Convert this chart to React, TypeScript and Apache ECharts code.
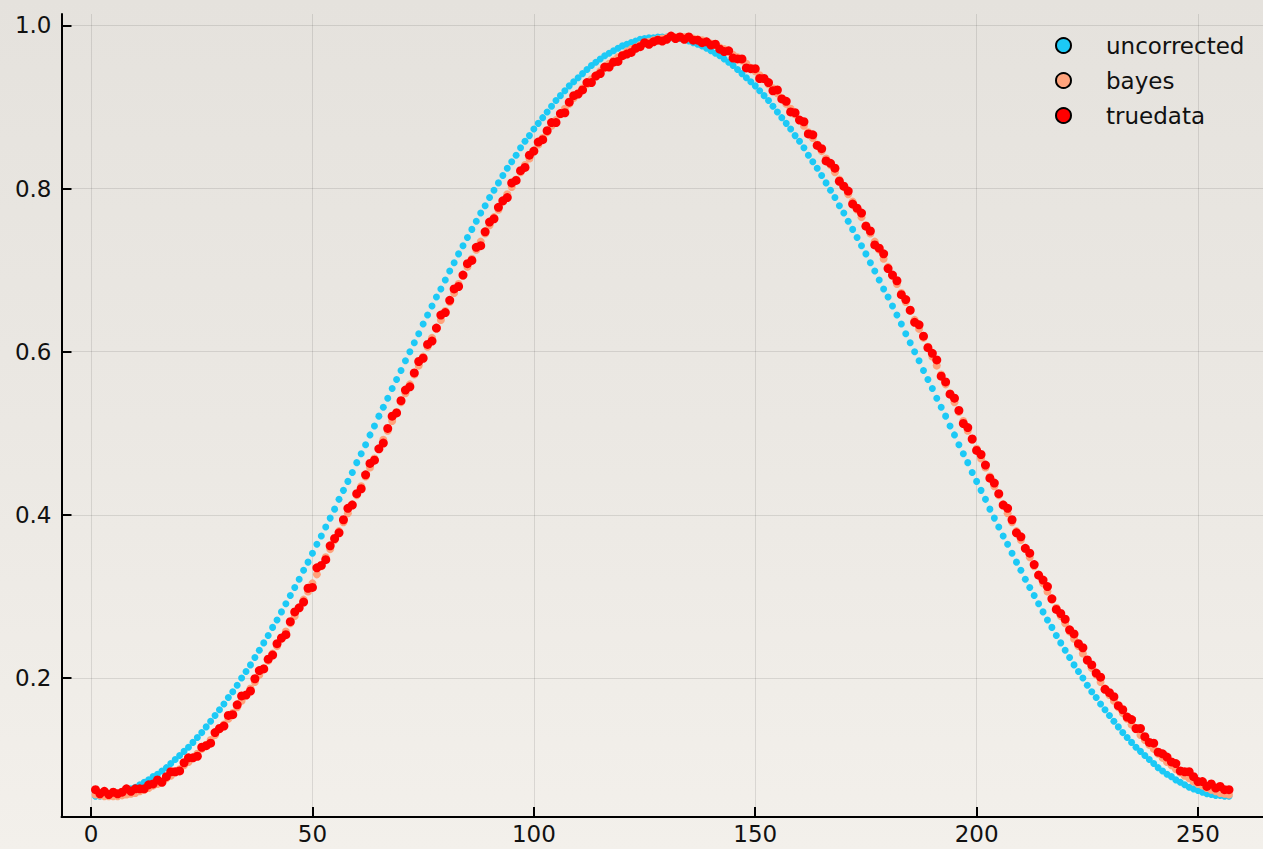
import React, { useEffect, useRef } from "react";
import * as echarts from "echarts";

const seriesNames = ["uncorrected", "bayes", "truedata"];
const xTicks = [0, 50, 100, 150, 200, 250];
const yTicks = [0.2, 0.4, 0.6, 0.8, 1.0];

const uncorrected = [
  0.055,0.055,0.056,0.056,0.057,0.058,0.060,0.062,0.064,
  0.066,0.069,0.072,0.075,0.079,0.082,0.086,0.090,0.095,0.100,
  0.105,0.110,0.115,0.121,0.127,0.133,0.140,0.147,0.154,0.161,
  0.168,0.176,0.183,0.191,0.200,0.208,0.216,0.225,0.234,0.243,
  0.252,0.262,0.271,0.281,0.291,0.301,0.311,0.321,0.332,0.342,
  0.353,0.364,0.374,0.385,0.396,0.407,0.419,0.430,0.441,0.452,
  0.464,0.475,0.486,0.498,0.509,0.521,0.532,0.543,0.555,0.566,
  0.577,0.589,0.600,0.611,0.622,0.634,0.645,0.656,0.667,0.677,
  0.688,0.699,0.709,0.720,0.730,0.740,0.750,0.760,0.770,0.779,
  0.789,0.798,0.807,0.816,0.825,0.833,0.841,0.850,0.858,0.865,
  0.873,0.880,0.887,0.894,0.901,0.908,0.914,0.920,0.926,0.931,
  0.936,0.941,0.946,0.951,0.955,0.959,0.963,0.966,0.969,0.972,
  0.975,0.977,0.979,0.981,0.983,0.984,0.985,0.985,0.986,
  0.986,
  0.986,0.985,0.985,0.984,0.983,0.981,0.979,0.977,0.975,
  0.972,0.969,0.966,0.963,0.959,0.955,0.951,0.946,0.941,0.936,
  0.931,0.926,0.920,0.914,0.908,0.901,0.894,0.887,0.880,0.873,
  0.865,0.858,0.850,0.841,0.833,0.825,0.816,0.807,0.798,0.789,
  0.779,0.770,0.760,0.750,0.740,0.730,0.720,0.709,0.699,0.688,
  0.677,0.667,0.656,0.645,0.634,0.622,0.611,0.600,0.589,0.577,
  0.566,0.555,0.543,0.532,0.521,0.509,0.498,0.486,0.475,0.464,
  0.452,0.441,0.430,0.419,0.407,0.396,0.385,0.374,0.364,0.353,
  0.342,0.332,0.321,0.311,0.301,0.291,0.281,0.271,0.262,0.252,
  0.243,0.234,0.225,0.216,0.208,0.200,0.191,0.183,0.176,0.168,
  0.161,0.154,0.147,0.140,0.133,0.127,0.121,0.115,0.110,0.105,
  0.100,0.095,0.090,0.086,0.082,0.079,0.075,0.072,0.069,0.066,
  0.064,0.062,0.060,0.058,0.057,0.056,0.056,0.055,0.055,
];

const bayes = [
  0.057,0.056,0.055,0.055,
  0.055,0.055,0.056,0.057,0.058,0.059,0.061,0.063,0.065,0.068,
  0.070,0.073,0.077,0.080,0.084,0.088,0.093,0.097,0.102,0.107,
  0.113,0.118,0.124,0.130,0.137,0.143,0.150,0.157,0.164,0.172,
  0.179,0.187,0.195,0.204,0.212,0.221,0.230,0.239,0.248,0.257,
  0.267,0.276,0.286,0.296,0.306,0.316,0.327,0.337,0.348,0.358,
  0.369,0.380,0.391,0.402,0.413,0.424,0.435,0.447,0.458,0.469,
  0.481,0.492,0.503,0.515,0.526,0.538,0.549,0.560,0.572,0.583,
  0.594,0.606,0.617,0.628,0.639,0.650,0.661,0.672,0.683,0.693,
  0.704,0.714,0.725,0.735,0.745,0.755,0.765,0.774,0.784,0.793,
  0.802,0.811,0.820,0.829,0.837,0.846,0.854,0.862,0.869,0.877,
  0.884,0.891,0.898,0.904,0.911,0.917,0.923,0.928,0.934,0.939,
  0.944,0.948,0.953,0.957,0.961,0.964,0.968,0.971,0.973,0.976,
  0.978,0.980,0.982,0.983,0.984,0.985,0.986,0.986,
  0.986,0.986,0.985,0.984,0.983,0.982,0.980,0.978,0.976,0.973,
  0.971,0.968,0.964,0.961,0.957,0.953,0.948,0.944,0.939,0.934,
  0.928,0.923,0.917,0.911,0.904,0.898,0.891,0.884,0.877,0.869,
  0.862,0.854,0.846,0.837,0.829,0.820,0.811,0.802,0.793,0.784,
  0.774,0.765,0.755,0.745,0.735,0.725,0.714,0.704,0.693,0.683,
  0.672,0.661,0.650,0.639,0.628,0.617,0.606,0.594,0.583,0.572,
  0.560,0.549,0.538,0.526,0.515,0.503,0.492,0.481,0.469,0.458,
  0.447,0.435,0.424,0.413,0.402,0.391,0.380,0.369,0.358,0.348,
  0.337,0.327,0.316,0.306,0.296,0.286,0.276,0.267,0.257,0.248,
  0.239,0.230,0.221,0.212,0.204,0.195,0.187,0.179,0.172,0.164,
  0.157,0.150,0.143,0.137,0.130,0.124,0.118,0.113,0.107,0.102,
  0.097,0.093,0.088,0.084,0.080,0.077,0.073,0.070,0.068,0.065,
  0.063,0.061,0.059,0.058,0.057,
];

const truedata = [
  0.063,0.058,0.061,0.057,0.060,0.058,0.060,0.064,0.061,0.064,
  0.064,0.064,0.069,0.070,0.075,0.072,0.079,0.085,0.085,0.086,
  0.096,0.102,0.102,0.104,0.115,0.117,0.120,0.133,0.138,0.141,
  0.154,0.155,0.167,0.178,0.179,0.184,0.199,0.209,0.211,0.223,
  0.228,0.242,0.249,0.253,0.269,0.281,0.286,0.293,0.310,0.311,
  0.335,0.338,0.345,0.362,0.371,0.378,0.394,0.408,0.412,0.426,
  0.432,0.449,0.463,0.467,0.481,0.488,0.506,0.521,0.525,0.540,
  0.553,0.557,0.574,0.588,0.592,0.609,0.613,0.629,0.645,0.648,
  0.663,0.677,0.680,0.694,0.708,0.712,0.728,0.730,0.747,0.759,
  0.763,0.777,0.785,0.789,0.807,0.810,0.822,0.826,0.841,0.846,
  0.857,0.860,0.871,0.881,0.881,0.892,0.893,0.906,0.914,0.916,
  0.921,0.930,0.930,0.938,0.941,0.949,0.949,0.955,0.956,0.963,
  0.965,0.967,0.972,0.974,0.979,0.977,0.980,0.982,0.981,0.983,0.987,0.984,
  0.986,0.983,0.986,0.982,0.982,0.979,0.980,0.976,0.977,0.971,
  0.968,0.969,0.960,0.959,0.959,0.948,0.947,0.947,0.935,0.935,
  0.930,0.920,0.921,0.910,0.907,0.894,0.893,0.884,0.882,0.867,
  0.866,0.853,0.849,0.834,0.831,0.825,0.809,0.803,0.797,0.781,
  0.776,0.770,0.754,0.748,0.731,0.727,0.720,0.702,0.694,0.687,
  0.670,0.664,0.651,0.636,0.633,0.619,0.605,0.598,0.590,0.570,
  0.563,0.548,0.543,0.528,0.512,0.507,0.493,0.479,0.474,0.461,
  0.445,0.439,0.426,0.412,0.408,0.394,0.378,0.373,0.359,0.353,
  0.339,0.326,0.320,0.312,0.297,0.284,0.279,0.272,0.259,0.254,
  0.242,0.237,0.222,0.216,0.206,0.201,0.186,0.182,0.177,0.166,
  0.161,0.152,0.149,0.138,0.138,0.128,0.121,0.120,0.109,0.107,
  0.103,0.097,0.095,0.086,0.085,0.085,0.079,0.073,0.073,0.067,
  0.070,0.065,0.067,0.063,0.063,
];

const colors = ["#1cc9f6", "#ffa37c", "#ff0000"];
const sizes = [7, 8, 9];

export default function App() {
  const ref = useRef<HTMLDivElement>(null);
  useEffect(() => {
    if (!ref.current) return;
    const chart = echarts.init(ref.current, null, { renderer: "svg" });
    const all = [uncorrected, bayes, truedata];
    const font = "DejaVu Sans";
    chart.setOption({
      animation: false,
      backgroundColor: "transparent",
      grid: { left: 61.5, top: 14, right: -5, bottom: 32, containLabel: false },
      legend: {
        data: seriesNames,
        orient: "vertical",
        left: 1050,
        top: 28,
        icon: "circle",
        itemWidth: 15,
        itemHeight: 15,
        itemGap: 10,
        itemStyle: { borderColor: "#000", borderWidth: 2 },
        textStyle: {
          fontFamily: font,
          fontSize: 23,
          color: "#111",
          lineHeight: 25,
          padding: [0, 0, 0, 30],
        },
      },
      xAxis: {
        type: "value",
        min: -6.68,
        max: 264.68,
        axisLine: { show: true, onZero: false, lineStyle: { color: "#000", width: 2 } },
        axisTick: {
          show: true,
          inside: true,
          length: 10,
          lineStyle: { color: "#000", width: 2 },
          customValues: xTicks,
        },
        axisLabel: {
          customValues: xTicks,
          fontFamily: font,
          fontSize: 23,
          color: "#111",
          margin: 5,
        },
        splitLine: { show: true, lineStyle: { color: "rgba(0,0,0,0.1)", width: 1 } },
      },
      yAxis: {
        type: "value",
        min: 0.0295,
        max: 1.0141,
        axisLine: { show: true, onZero: false, lineStyle: { color: "#000", width: 2 } },
        axisTick: {
          show: true,
          inside: true,
          length: 10,
          lineStyle: { color: "#000", width: 2 },
          customValues: yTicks,
        },
        axisLabel: {
          customValues: yTicks,
          fontFamily: font,
          fontSize: 23,
          color: "#111",
          margin: 10,
          formatter: (v: number) => v.toFixed(1),
        },
        splitLine: { show: true, lineStyle: { color: "rgba(0,0,0,0.1)", width: 1 } },
      },
      series: all.map((arr, s) => ({
        name: seriesNames[s],
        type: "scatter",
        symbol: "circle",
        symbolSize: sizes[s],
        itemStyle: { color: colors[s], opacity: 1 },
        data: arr.map((v, i) => [i + 1, v]),
        z: 2 + s,
      })),
    });
    return () => chart.dispose();
  }, []);
  return (
    <div
      style={{
        position: "absolute",
        left: 0,
        top: 0,
        width: 1263,
        height: 849,
        overflow: "hidden",
        background: "linear-gradient(180deg, #e5e2dd 0%, #ebe8e3 50%, #f3f0eb 100%)",
      }}
    >
      <div ref={ref} style={{ width: 1263, height: 849 }} />
    </div>
  );
}
